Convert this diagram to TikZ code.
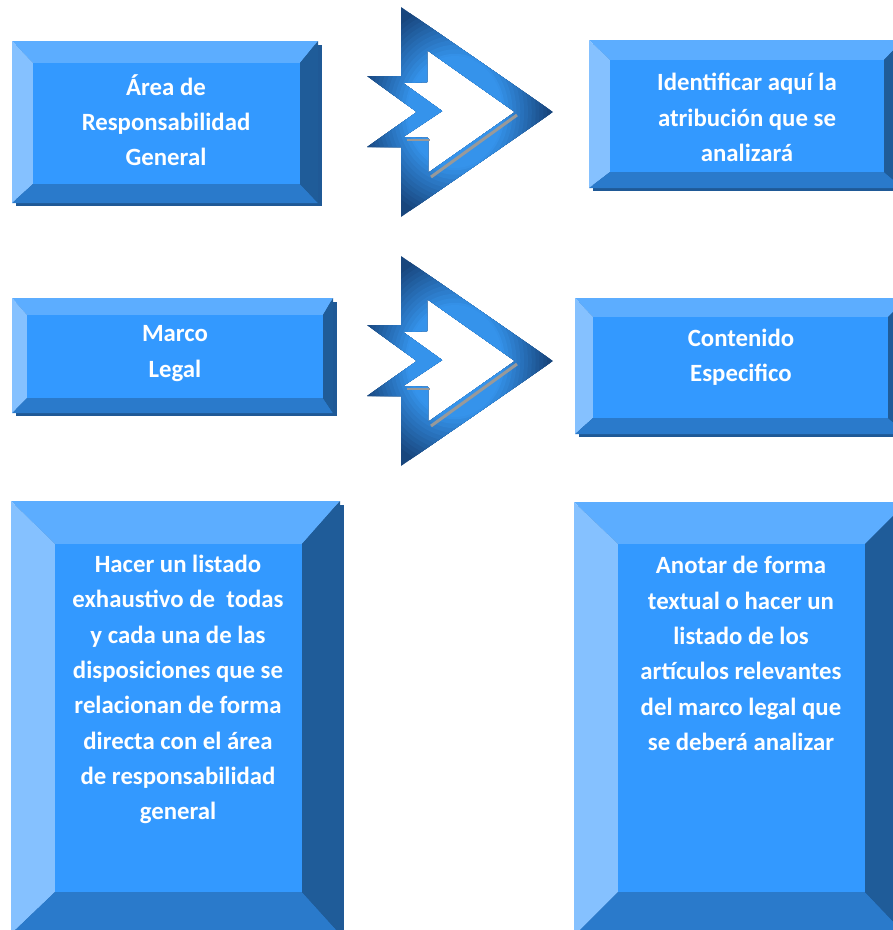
\documentclass[tikz,border=0pt]{standalone}
\usepackage{fontspec}
\setmainfont{Carlito}
\definecolor{face}{RGB}{51,153,255}
\definecolor{bevtop}{RGB}{92,173,255}
\definecolor{bevleft}{RGB}{133,193,255}
\definecolor{bevbot}{RGB}{42,122,203}
\definecolor{bevright}{RGB}{31,92,153}
\definecolor{shadowc}{RGB}{31,89,150}
\definecolor{arrbright}{RGB}{53,147,235}
\definecolor{arrdark}{RGB}{24,70,125}
\newcommand\bevbox[8]{%
  \fill[shadowc] (#1+4,#2+4) rectangle (#3+4,#4+3);
  \fill[bevtop] (#1,#2) -- (#3,#2) -- (#7,#6) -- (#5,#6) -- cycle;
  \fill[bevleft] (#1,#2) -- (#5,#6) -- (#5,#8) -- (#1,#4) -- cycle;
  \fill[bevbot] (#1,#4) -- (#5,#8) -- (#7,#8) -- (#3,#4) -- cycle;
  \fill[bevright] (#3,#2) -- (#3,#4) -- (#7,#8) -- (#7,#6) -- cycle;
  \fill[face] (#5,#6) rectangle (#7,#8);
}
\newcommand\chevron[1]{%
  \begin{scope}[yshift=#1]
  \begin{scope}[even odd rule]
  \clip
    (401,7) -- (553,112) -- (401,217) -- (401,147) -- (367,147) -- (417,112) -- (367,76) -- (401,76) -- cycle
    (427,50) -- (515,112) -- (428,173) -- (428,138) -- (403,137) -- (442,111) -- (403,83) -- (427,82) -- cycle;
  \fill[arrdark] (360,0) rectangle (560,225);
  \foreach \k in {0,...,12}{%
    \pgfmathsetmacro\rr{1-\k*0.04}%
    \pgfmathsetmacro\tt{max(0,(\rr-0.5)*200)}%
    \fill[arrdark!\tt!arrbright] (455,112) ellipse ({96*\rr} and {112*\rr});
  }
  \fill[arrbright] (455,112) ellipse (48 and 56);
  \end{scope}
  \draw[gray!80, line width=3pt] (517,115) -- (431,177);
  \draw[gray!80, line width=2.5pt] (407,140) -- (430,140);
  \end{scope}
}
\tikzset{lbl/.style={text=white, align=center, font=\fontsize{24.8}{35.3}\selectfont\bfseries, inner sep=0pt}}
\begin{document}
\begin{tikzpicture}[x=1pt, y=-1pt]
\useasboundingbox (0,0) rectangle (893,930);
\clip (0,0) rectangle (893,930);
\bevbox{12}{41}{318}{203}{33}{63}{300}{184}
\bevbox{589}{40}{903}{188}{610}{60}{884}{172}
\bevbox{12}{298}{333}{413}{27}{315}{323}{398}
\bevbox{575}{298}{907}{434}{593}{317}{888}{418}
\bevbox{11}{501}{340}{934}{55}{544}{302}{892}
\bevbox{574}{502}{907}{936}{618}{544}{865}{892}
\chevron{0pt}
\chevron{-249pt}
\node[lbl] (area) at (166,120) {Área de\\Responsabilidad\\General};
\node[lbl] (ident) at (747,117.5) {Identificar aquí la\\atribución que se\\analizará};
\node[lbl] (marco) at (175,353.5) {Marco\\Legal};
\node[lbl] (cont) at (741,357.5) {Contenido\\Especifico};
\node[lbl] (hacer) at (178,689.5) {Hacer un listado\\exhaustivo de~\ todas\\y cada una de las\\disposiciones que se\\relacionan de forma\\directa con el área\\de responsabilidad\\general};
\node[lbl] (anotar) at (741,653.5) {Anotar de forma\\textual o hacer un\\listado de los\\artículos relevantes\\del marco legal que\\se deberá analizar};
\end{tikzpicture}
\end{document}
